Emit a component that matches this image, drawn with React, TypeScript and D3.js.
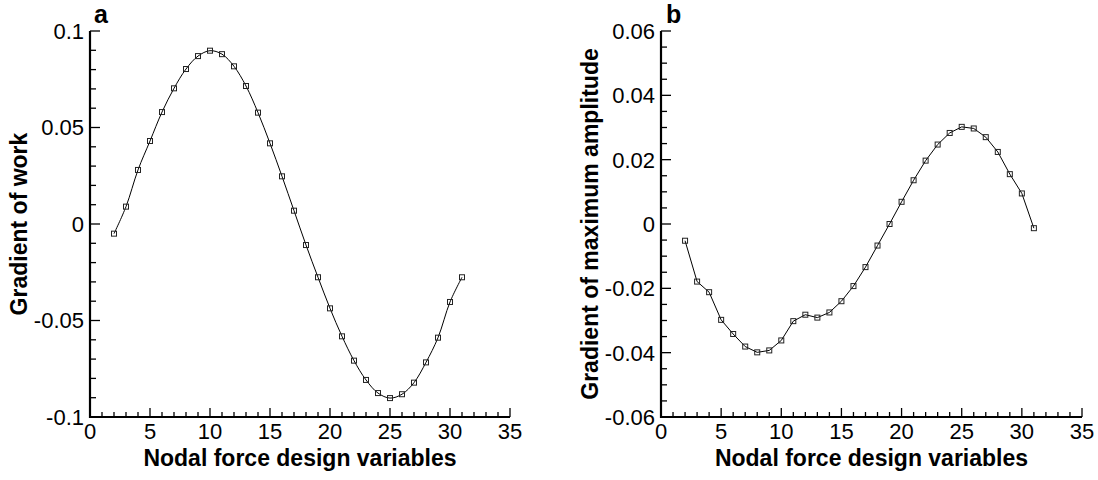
import React from "react";
import * as d3 from "d3";

const nodes = [2,3,4,5,6,7,8,9,10,11,12,13,14,15,16,17,18,19,20,21,22,23,24,25,26,27,28,29,30,31];
const workGrad = [-0.005,0.009,0.028,0.043,0.058,0.0703,0.0803,0.087,0.0898,0.088,0.0817,0.0715,0.0577,0.0418,0.0247,0.0069,-0.0109,-0.0276,-0.0437,-0.0582,-0.0708,-0.0808,-0.0876,-0.0902,-0.0882,-0.0822,-0.0717,-0.0589,-0.0404,-0.0276];
const ampGrad = [-0.0052,-0.0179,-0.0212,-0.0298,-0.0342,-0.0381,-0.0399,-0.0393,-0.0362,-0.0302,-0.0282,-0.0291,-0.0275,-0.024,-0.0193,-0.0134,-0.0067,0.0,0.0069,0.0136,0.0197,0.0247,0.0283,0.0302,0.0297,0.027,0.0224,0.0155,0.0095,-0.0013];
const xTicks = [0,5,10,15,20,25,30,35];
const leftYTicks = [-0.1,-0.05,0,0.05,0.1];
const leftYLabels = ["-0.1","-0.05","0","0.05","0.1"];
const rightYTicks = [-0.06,-0.04,-0.02,0,0.02,0.04,0.06];
const rightYLabels = ["-0.06","-0.04","-0.02","0","0.02","0.04","0.06"];
const xTitle = "Nodal force design variables";

const FONT = "'Liberation Sans', Arial, Helvetica, sans-serif";

type PanelProps = {
  x0: number; x1: number; y0: number; y1: number;
  yDomain: [number, number]; yTicks: number[]; yLabels: string[]; yMinorStep: number;
  values: number[]; smooth: boolean; yTitle: string; yTitleX: number; letter: string; letterX: number;
};

function Panel(p: PanelProps) {
  const x = d3.scaleLinear().domain([0, 35]).range([p.x0, p.x1]);
  const y = d3.scaleLinear().domain(p.yDomain).range([p.y1, p.y0]);
  const xMinor = d3.range(0, 35.0001, 1);
  const n = Math.round((p.yDomain[1] - p.yDomain[0]) / p.yMinorStep);
  const yMinor = d3.range(0, n + 1).map(i => p.yDomain[0] + i * p.yMinorStep);
  const pts: [number, number][] = nodes.map((nd, i) => [x(nd), y(p.values[i])]);
  const line = d3.line().curve(p.smooth ? d3.curveCatmullRom : d3.curveLinear)(pts) || "";
  const m = 5;
  return (
    <g fontFamily={FONT} fill="#000">
      {xMinor.map(v => (
        <line key={"xm" + v} x1={x(v)} x2={x(v)} y1={p.y1} y2={p.y1 - (v % 5 === 0 ? 9 : 5)} stroke="#000" strokeWidth={1.3} />
      ))}
      {yMinor.map((v, i) => {
        const major = p.yTicks.some(t => Math.abs(t - v) < 1e-9);
        return <line key={"ym" + i} x1={p.x0} x2={p.x0 + (major ? 10 : 6)} y1={y(v)} y2={y(v)} stroke="#000" strokeWidth={1.3} />;
      })}
      <line x1={p.x0} x2={p.x0} y1={p.y0} y2={p.y1 + 1} stroke="#000" strokeWidth={2.2} />
      <line x1={p.x0 - 1} x2={p.x1} y1={p.y1} y2={p.y1} stroke="#000" strokeWidth={2.2} />
      {xTicks.map(v => (
        <text key={"xl" + v} x={x(v)} y={p.y1 + 22} fontSize={22} textAnchor="middle">{v}</text>
      ))}
      {p.yTicks.map((v, i) => (
        <text key={"yl" + i} x={p.x0 - 6} y={y(v)} dy="0.36em" fontSize={22} textAnchor="end">{p.yLabels[i]}</text>
      ))}
      <text x={(p.x0 + p.x1) / 2} y={466} fontSize={23} fontWeight="bold" textAnchor="middle">{xTitle}</text>
      <text transform={`translate(${p.yTitleX},${(p.y0 + p.y1) / 2}) rotate(-90)`} dy="0.36em" fontSize={23} fontWeight="bold" textAnchor="middle">{p.yTitle}</text>
      <text x={p.letterX} y={23} fontSize={25} fontWeight="bold">{p.letter}</text>
      <path d={line} fill="none" stroke="#000" strokeWidth={1} />
      {pts.map((pt, i) => (
        <rect key={"m" + i} x={pt[0] - m / 2} y={pt[1] - m / 2} width={m} height={m} fill="none" stroke="#222" strokeWidth={1} />
      ))}
    </g>
  );
}

export default function App() {
  return (
    <svg width={1098} height={480} style={{ position: "absolute", left: 0, top: 0, background: "#fff" }}>
      <rect width={1098} height={480} fill="#fff" />
      <Panel x0={90} x1={510} y0={31} y1={417} yDomain={[-0.1, 0.1]} yTicks={leftYTicks} yLabels={leftYLabels} yMinorStep={0.01}
        values={workGrad} smooth={true} yTitle="Gradient of work" yTitleX={19} letter="a" letterX={94} />
      <Panel x0={661} x1={1082} y0={31} y1={417} yDomain={[-0.06, 0.06]} yTicks={rightYTicks} yLabels={rightYLabels} yMinorStep={0.005}
        values={ampGrad} smooth={false} yTitle="Gradient of maximum amplitude" yTitleX={590} letter="b" letterX={666} />
    </svg>
  );
}
